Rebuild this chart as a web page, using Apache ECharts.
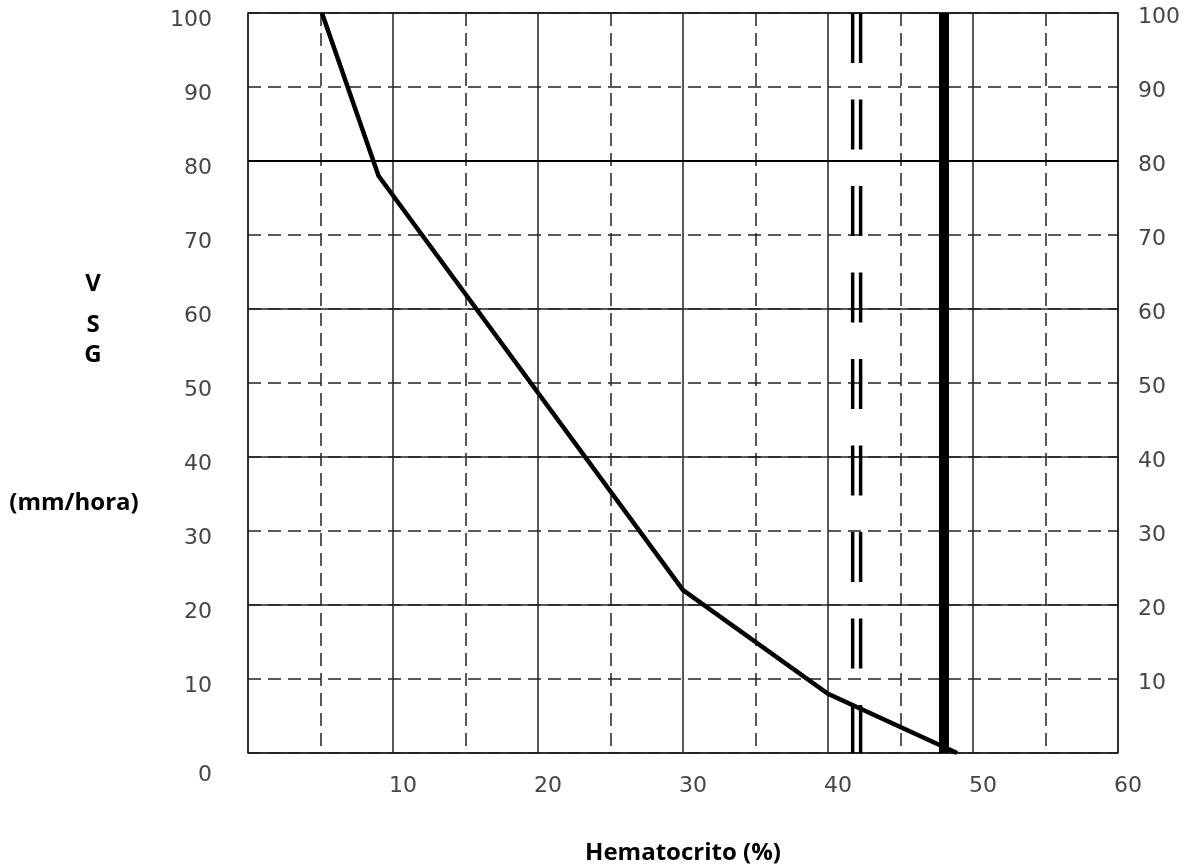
<!DOCTYPE html>
<html>
<head>
<meta charset="utf-8">
<script src="https://cdn.jsdelivr.net/npm/echarts@6/dist/echarts.min.js"></script>
<style>
  html, body { margin: 0; padding: 0; background: #fff; }
  #chart { width: 1184px; height: 865px; }
</style>
</head>
<body>
<div id="chart"></div>
<script>
// ---- data ----
const xRange = [0, 60];
const yRange = [0, 100];
const xInterval = 10;
const yInterval = 10;
const curveX = [5.1, 9, 30, 40, 48.9];
const curveY = [100, 78, 22, 8, 0];
const doubleLineX = [41.7, 42.25];
const thickLineX = 48;
const refLineY = 80;
const xAxisTitle = 'Hematocrito (%)';
const yTitleLetters = ['V', 'S', 'G'];
const yUnit = '(mm/hora)';

const chart = echarts.init(document.getElementById('chart'));

const gridColor = '#222';
const tickFont = { fontFamily: 'DejaVu Sans', fontSize: 22, color: '#454545' };
const boldFont = 'Open Sans';

function vertical(x) {
  return [[x, yRange[1]], [x, yRange[0]]];
}

const series = [
  {
    type: 'line',
    data: vertical(thickLineX),
    showSymbol: false,
    silent: true,
    lineStyle: { color: '#000', width: 10, type: 'solid' },
    z: 3
  }
];
doubleLineX.forEach(function (x) {
  series.push({
    type: 'line',
    data: vertical(x),
    showSymbol: false,
    silent: true,
    lineStyle: { color: '#000', width: 3.5, type: [50, 36.5], cap: 'butt' },
    z: 3
  });
});
series.push({
  type: 'line',
  data: curveX.map(function (x, i) { return [x, curveY[i]]; }),
  showSymbol: false,
  silent: true,
  lineStyle: { color: '#000', width: 4.5, join: 'miter' },
  z: 4,
  markLine: {
    silent: true,
    symbol: ['none', 'none'],
    label: { show: false },
    lineStyle: { color: '#000', width: 2, type: 'solid' },
    data: [{ yAxis: refLineY }]
  }
});

const letterY = [284, 325, 355];
const graphic = yTitleLetters.map(function (t, i) {
  return {
    type: 'text', x: 93, y: letterY[i],
    style: { text: t, font: 'bold 24px "' + boldFont + '"', fill: '#000', align: 'center', verticalAlign: 'middle' }
  };
});
graphic.push({
  type: 'text', x: 74, y: 503,
  style: { text: yUnit, font: 'bold 24px "' + boldFont + '"', fill: '#000', align: 'center', verticalAlign: 'middle' }
});

chart.setOption({
  animation: false,
  backgroundColor: '#fff',
  grid: {
    left: 248, right: 66, top: 13, bottom: 112,
    outerBoundsMode: 'none', containLabel: false,
    show: true, borderColor: gridColor, borderWidth: 1.5, backgroundColor: 'transparent'
  },
  xAxis: {
    type: 'value', min: xRange[0], max: xRange[1], interval: xInterval,
    name: xAxisTitle, nameLocation: 'middle', nameGap: 88,
    nameTextStyle: { fontFamily: boldFont, fontWeight: 'bold', fontSize: 24, color: '#000' },
    axisLine: { show: false }, axisTick: { show: false },
    axisLabel: Object.assign({
      margin: 22, padding: [0, 0, 0, 20],
      formatter: function (v) { return v === 0 ? '' : String(v); }
    }, tickFont),
    splitLine: { show: true, lineStyle: { color: gridColor, width: 1.5, type: 'solid' } },
    minorTick: { show: false, splitNumber: 2 },
    minorSplitLine: { show: true, lineStyle: { color: gridColor, width: 1.5, type: [13, 7] } }
  },
  yAxis: [
    {
      type: 'value', min: yRange[0], max: yRange[1], interval: yInterval, position: 'left',
      axisLine: { show: false }, axisTick: { show: false },
      axisLabel: {
        margin: 36,
        formatter: function (v) { return v === 0 ? '{z|0}' : '{n|' + v + '}'; },
        rich: {
          n: Object.assign({ padding: [15, 0, 0, 0] }, tickFont),
          z: Object.assign({ padding: [44, 0, 0, 0] }, tickFont)
        }
      },
      splitLine: { show: true, lineStyle: { color: gridColor, width: 1.5, type: [13, 7] } }
    },
    {
      type: 'value', min: yRange[0], max: yRange[1], interval: yInterval, position: 'right',
      axisLine: { show: false }, axisTick: { show: false },
      axisLabel: {
        margin: 20,
        formatter: function (v) { return v === 0 ? '' : '{n|' + v + '}'; },
        rich: {
          n: Object.assign({ padding: [8, 0, 0, 0] }, tickFont)
        }
      },
      splitLine: { show: false }
    },
    {
      type: 'value', min: yRange[0], max: yRange[1], interval: yInterval * 2, position: 'left',
      axisLine: { show: false }, axisTick: { show: false }, axisLabel: { show: false },
      splitLine: { show: true, lineStyle: { color: gridColor, width: 1.5, type: 'solid' } }
    }
  ],
  graphic: graphic,
  series: series
});
</script>
</body>
</html>
